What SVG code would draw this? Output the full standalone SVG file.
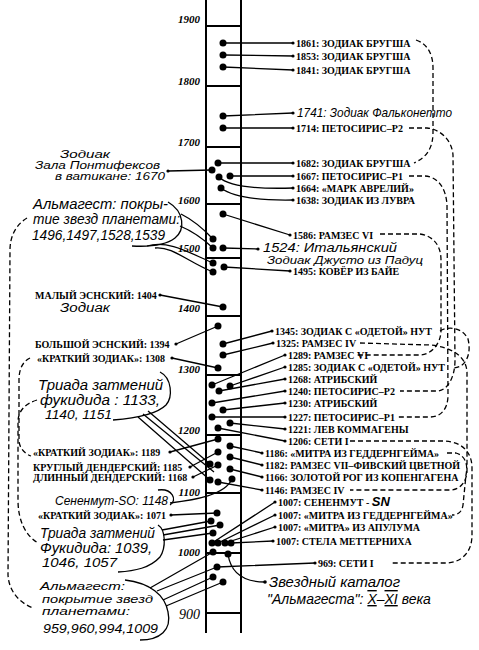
<svg xmlns="http://www.w3.org/2000/svg" width="479" height="650" viewBox="0 0 479 650">
<style>
.lb{font-family:"Liberation Serif",serif;font-weight:bold;font-size:10px;fill:#000}
.hw{font-family:"Liberation Sans",sans-serif;font-style:italic;font-size:13px;fill:#000}
.yr{font-family:"Liberation Serif",serif;font-weight:bold;font-style:italic;font-size:11px;text-anchor:end;fill:#000}
.ln{stroke:#000;stroke-width:1.3;fill:none}
.ds{stroke:#000;stroke-width:1.3;fill:none;stroke-dasharray:5 3}
.col{stroke:#000;stroke-width:2;fill:none}
.dot{fill:#000}
</style>
<rect width="479" height="650" fill="#fff"/>
<g id="timeline">
<line class="col" x1="206" y1="0" x2="206" y2="633"/>
<line class="col" x1="241" y1="0" x2="241" y2="633"/>
<path class="col" d="M206,26H241M206,86H241M206,147H241M206,204H241M206,258H241M206,316H241M206,375H241M206,435H241M206,493H241M206,553H241M206,613H241"/>
<text class="yr" x="200" y="23">1900</text>
<text class="yr" x="200" y="85">1800</text>
<text class="yr" x="200" y="146">1700</text>
<text class="yr" x="200" y="204">1600</text>
<text class="yr" x="200" y="252">1500</text>
<text class="yr" x="200" y="312">1400</text>
<text class="yr" x="200" y="373">1300</text>
<text class="yr" x="200" y="434">1200</text>
<text class="yr" x="200" y="495.5">1100</text>
<text class="yr" x="200" y="556">1000</text>
<text class="yr" x="200" y="619" style="font-size:14px;font-weight:normal">900</text>
</g>
<g id="dots">
<circle class="dot" cx="223" cy="43" r="3.5"/><circle class="dot" cx="223" cy="55" r="3.5"/><circle class="dot" cx="223" cy="67" r="3.5"/>
<circle class="dot" cx="223" cy="116" r="3.5"/><circle class="dot" cx="223" cy="128" r="3.5"/>
<circle class="dot" cx="218" cy="163" r="3.5"/><circle class="dot" cx="212" cy="170" r="3.5"/><circle class="dot" cx="219" cy="177" r="3.5"/><circle class="dot" cx="230" cy="176" r="3.5"/><circle class="dot" cx="221" cy="188" r="3.5"/>
<circle class="dot" cx="223" cy="214" r="3.5"/><circle class="dot" cx="213" cy="239" r="3.5"/><circle class="dot" cx="213" cy="248" r="3.5"/><circle class="dot" cx="223" cy="248" r="3.5"/>
<circle class="dot" cx="213" cy="263" r="3.5"/><circle class="dot" cx="213" cy="272" r="3.5"/><circle class="dot" cx="224" cy="267" r="3.5"/>
<circle class="dot" cx="223" cy="307" r="3.5"/><circle class="dot" cx="218" cy="326" r="3.5"/><circle class="dot" cx="223" cy="344" r="3.5"/><circle class="dot" cx="223" cy="355" r="3.5"/><circle class="dot" cx="218" cy="368" r="3.5"/>
<circle class="dot" cx="212" cy="385" r="3.5"/><circle class="dot" cx="230" cy="386" r="3.5"/><circle class="dot" cx="219" cy="391" r="3.5"/><circle class="dot" cx="212" cy="403" r="3.5"/><circle class="dot" cx="223" cy="410" r="3.5"/><circle class="dot" cx="212" cy="417" r="3.5"/><circle class="dot" cx="230" cy="423" r="3.5"/><circle class="dot" cx="218" cy="428" r="3.5"/>
<circle class="dot" cx="218" cy="439" r="3.5"/><circle class="dot" cx="230" cy="446" r="3.5"/><circle class="dot" cx="218" cy="452" r="3.5"/><circle class="dot" cx="230" cy="457" r="3.5"/><circle class="dot" cx="210" cy="464" r="3.5"/><circle class="dot" cx="218" cy="465" r="3.5"/><circle class="dot" cx="230" cy="469" r="3.5"/><circle class="dot" cx="210" cy="480" r="3.5"/><circle class="dot" cx="218" cy="482" r="3.5"/><circle class="dot" cx="232" cy="479" r="3.5"/>
<circle class="dot" cx="217" cy="513" r="3.5"/><circle class="dot" cx="211" cy="521" r="3.5"/><circle class="dot" cx="220" cy="525" r="3.5"/><circle class="dot" cx="213" cy="533" r="3.5"/>
<circle class="dot" cx="212" cy="543" r="3.5"/><circle class="dot" cx="218" cy="543" r="3.5"/><circle class="dot" cx="225" cy="543" r="3.5"/><circle class="dot" cx="231" cy="543" r="3.5"/>
<circle class="dot" cx="213" cy="552" r="3.5"/><circle class="dot" cx="228" cy="554" r="3.5"/><circle class="dot" cx="217" cy="567" r="3.5"/><circle class="dot" cx="213" cy="577" r="3.5"/><circle class="dot" cx="223" cy="582" r="3.5"/>
</g>
<g id="connectors">
<path class="ln" d="M223,43L293,43M223,55L293,56M223,67L293,70M223,116L293,113M223,128L293,128M218,163L293,163M230,176L293,176M219,177Q232,190 293,188M221,188Q238,201 293,200M223,214L290,235M223,248L258,249M224,267L290,271"/>
<path class="ln" d="M168,171L212,170M160,295L223,307M176,344L218,326M172,358L218,368"/>
<path class="ln" d="M223,344L272,331M223,355L273,343M212,385L285,355M230,386L285,367M219,391L285,379M212,403L285,391M223,410L285,403M212,417L285,417M230,423L285,429M218,428L285,441"/>
<path class="ln" d="M230,446L262,453M230,457L262,465M230,469L262,477M218,482L262,490"/>
<path class="ln" d="M170,452L218,439M190,467L218,452M193,477L218,465"/>
<path class="ln" d="M212,543L275,502M218,543L275,515M225,543L275,527M231,543L273,541M217,567L315,563M228,554C231,575 245,582 265,582"/>
<path class="ln" d="M171,515L217,513"/>
<path class="ln" d="M181,214Q197,222 213,239M180,226Q197,233 213,248M147,246C168,240 188,252 213,263M155,248C172,246 188,262 213,272"/>
<path class="ln" d="M148,411L210,464M143,414L214,472M138,417L210,480"/>
<path class="ln" d="M170,503C195,500 225,495 232,479"/>
<path class="ln" d="M162,530L211,521M163,535L220,525M163,540L213,533"/>
<path class="ln" d="M150,588L213,552M157,591L217,567M163,600L213,577M166,606L223,582"/>
<path class="ds" d="M416,40C428,44 433,55 433,68L433,132C433,148 427,157 414,163"/>
<path class="ds" d="M409,128L427,128C440,129 452,140 453,155L455,360C455,378 447,391 437,391L400,391"/>
<path class="ds" d="M409,176L425,176C438,177 446,188 447,205L448,395C448,410 440,417 430,417L396,417"/>
<path class="ds" d="M380,234L420,234C433,236 441,245 441,260L441,330C441,345 430,355 420,355L355,355"/>
<path class="ds" d="M440,331C448,326 462,327 468,339C472,355 465,368 453,368"/>
<path class="ds" d="M360,343L430,345C450,347 466,355 467,372L467,470C467,482 460,490 450,490L350,490"/>
<path class="ds" d="M350,441L445,441C462,442 472,452 472,468L472,535C472,552 462,563 445,563L390,563"/>
<path class="ds" d="M447,453L456,453C466,456 468,465 466,475L463,505C462,512 458,515 452,515"/>
<path class="ds" d="M27,218C17,224 10,235 10,250L8,575C9,592 20,603 33,608"/>
<path class="ds" d="M30,358C22,362 19,370 19,380L19,440C19,448 25,454 31,456"/>
<path class="ds" d="M37,400C24,404 18,412 18,422L18,500C18,520 25,535 38,543"/>
</g>
<g id="n1861"><circle cx="293" cy="43" r="1.6"/><text class="lb" x="296" y="46.5">1861: ЗОДИАК БРУГША</text></g>
<g id="n1853"><circle cx="293" cy="56" r="1.6"/><text class="lb" x="296" y="59.5">1853: ЗОДИАК БРУГША</text></g>
<g id="n1841"><circle cx="293" cy="70" r="1.6"/><text class="lb" x="296" y="73.5">1841: ЗОДИАК БРУГША</text></g>
<g id="n1741"><circle cx="293" cy="113" r="1.6"/><text class="hw" x="297" y="117" textLength="155" lengthAdjust="spacingAndGlyphs">1741: Зодиак Фальконетто</text></g>
<g id="n1714"><circle cx="293" cy="128" r="1.6"/><text class="lb" x="296" y="131.5">1714: ПЕТОСИРИС–Р2</text></g>
<g id="n1682"><circle cx="293" cy="163" r="1.6"/><text class="lb" x="296" y="166.5">1682: ЗОДИАК БРУГША</text></g>
<g id="n1667"><circle cx="293" cy="176" r="1.6"/><text class="lb" x="296" y="179.5">1667: ПЕТОСИРИС–Р1</text></g>
<g id="n1664"><circle cx="293" cy="188" r="1.6"/><text class="lb" x="296" y="191.5">1664: «МАРК АВРЕЛИЙ»</text></g>
<g id="n1638"><circle cx="293" cy="200" r="1.6"/><text class="lb" x="296" y="203.5">1638: ЗОДИАК ИЗ ЛУВРА</text></g>
<g id="n1586"><circle cx="290" cy="235" r="1.6"/><text class="lb" x="293" y="238.5">1586: РАМЗЕС VI</text></g>
<g id="n1524"><circle cx="258" cy="249" r="1.6"/><text class="hw" x="263" y="252" style="font-size:12px" textLength="134" lengthAdjust="spacingAndGlyphs">1524: Итальянский</text><text class="hw" x="267" y="264" style="font-size:11px" textLength="156" lengthAdjust="spacingAndGlyphs">Зодиак Джусто из Падуц</text></g>
<g id="n1495"><circle cx="290" cy="271" r="1.6"/><text class="lb" x="293" y="274.5">1495: КОВЁР ИЗ БАЙЕ</text></g>
<g id="n1345"><circle cx="272" cy="331" r="1.6"/><text class="lb" x="275" y="334.5">1345: ЗОДИАК С «ОДЕТОЙ» НУТ</text></g>
<g id="n1325"><circle cx="273" cy="343" r="1.6"/><text class="lb" x="276" y="346.5">1325: РАМЗЕС IV</text></g>
<g id="n1289"><circle cx="285" cy="355" r="1.6"/><text class="lb" x="288" y="358.5">1289: РАМЗЕС VI</text></g>
<g id="n1285"><circle cx="285" cy="367" r="1.6"/><text class="lb" x="288" y="370.5">1285: ЗОДИАК С «ОДЕТОЙ» НУТ</text></g>
<g id="n1268"><circle cx="285" cy="379" r="1.6"/><text class="lb" x="288" y="382.5">1268: АТРИБСКИЙ</text></g>
<g id="n1240"><circle cx="285" cy="391" r="1.6"/><text class="lb" x="288" y="394.5">1240: ПЕТОСИРИС–Р2</text></g>
<g id="n1230"><circle cx="285" cy="403" r="1.6"/><text class="lb" x="288" y="406.5">1230: АТРИБСКИЙ</text></g>
<g id="n1227"><circle cx="285" cy="417" r="1.6"/><text class="lb" x="288" y="420.5">1227: ПЕТОСИРИС–Р1</text></g>
<g id="n1221"><circle cx="285" cy="429" r="1.6"/><text class="lb" x="288" y="432.5">1221: ЛЕВ КОММАГЕНЫ</text></g>
<g id="n1206"><circle cx="285" cy="441" r="1.6"/><text class="lb" x="288" y="444.5">1206: СЕТИ I</text></g>
<g id="n1186"><circle cx="262" cy="453" r="1.6"/><text class="lb" x="265" y="456.5">1186: «МИТРА ИЗ ГЕДДЕРНГЕЙМА»</text></g>
<g id="n1182"><circle cx="262" cy="465" r="1.6"/><text class="lb" x="265" y="468.5">1182: РАМЗЕС VII–ФИВСКИЙ ЦВЕТНОЙ</text></g>
<g id="n1166"><circle cx="262" cy="477" r="1.6"/><text class="lb" x="265" y="480.5">1166: ЗОЛОТОЙ РОГ ИЗ КОПЕНГАГЕНА</text></g>
<g id="n1146"><circle cx="262" cy="490" r="1.6"/><text class="lb" x="265" y="493.5">1146: РАМЗЕС IV</text></g>
<g id="n1007a"><circle cx="275" cy="502" r="1.6"/><text class="lb" x="278" y="505.5">1007: СЕНЕНМУТ - <tspan class="hw" style="font-size:13px">SN</tspan></text></g>
<g id="n1007b"><circle cx="275" cy="515" r="1.6"/><text class="lb" x="278" y="518.5">1007: «МИТРА ИЗ ГЕДДЕРНГЕЙМА»</text></g>
<g id="n1007c"><circle cx="275" cy="527" r="1.6"/><text class="lb" x="278" y="530.5">1007: «МИТРА» ИЗ АПУЛУМА</text></g>
<g id="n1007d"><circle cx="273" cy="541" r="1.6"/><text class="lb" x="276" y="544.5">1007: СТЕЛА МЕТТЕРНИХА</text></g>
<g id="n969"><circle cx="315" cy="563" r="1.6"/><text class="lb" x="318" y="566.5">969: СЕТИ I</text></g>
<g id="nAlmagestCat"><circle cx="265" cy="582" r="1.8"/><text class="hw" x="269" y="587" style="font-size:14px" textLength="131" lengthAdjust="spacingAndGlyphs">Звездный каталог</text><text class="hw" x="267" y="604" style="font-size:14px">"Альмагеста": <tspan text-decoration="underline overline">X</tspan>–<tspan text-decoration="underline overline">XI</tspan> века</text></g>
<g id="n1670"><circle cx="168" cy="171" r="1.6"/><text class="hw" x="60" y="158" style="font-size:11px" textLength="50" lengthAdjust="spacingAndGlyphs">Зодиак</text><text class="hw" x="35" y="169" style="font-size:11px" textLength="125" lengthAdjust="spacingAndGlyphs">Зала Понтифексов</text><text class="hw" x="55" y="180" style="font-size:11px" textLength="110" lengthAdjust="spacingAndGlyphs">в ватикане: 1670</text></g>
<g id="nAlmagest1"><text class="hw" x="33" y="209" style="font-size:14px" textLength="135" lengthAdjust="spacingAndGlyphs">Альмагест: покры-</text><text class="hw" x="33" y="224" style="font-size:14px" textLength="147" lengthAdjust="spacingAndGlyphs">тие звезд планетами:</text><text class="hw" x="32" y="240" style="font-size:14px" textLength="133" lengthAdjust="spacingAndGlyphs">1496,1497,1528,1539</text><path class="ln" d="M168,202C185,212 185,230 175,238C166,245 150,247 132,246"/></g>
<g id="n1404"><circle cx="160" cy="295" r="1.6"/><text class="lb" x="35" y="298.5">МАЛЫЙ ЭСНСКИЙ: 1404</text><text class="hw" x="60" y="312" style="font-size:12px" textLength="50" lengthAdjust="spacingAndGlyphs">Зодиак</text></g>
<g id="n1394"><circle cx="176" cy="344" r="1.6"/><text class="lb" x="35" y="347.5">БОЛЬШОЙ ЭСНСКИЙ: 1394</text></g>
<g id="n1308"><circle cx="172" cy="358" r="1.6"/><text class="lb" x="37" y="361.5">«КРАТКИЙ ЗОДИАК»: 1308</text></g>
<g id="nTriada1"><text class="hw" x="38" y="390" style="font-size:14px" textLength="125" lengthAdjust="spacingAndGlyphs">Триада затмений</text><text class="hw" x="40" y="405" style="font-size:14px" textLength="120" lengthAdjust="spacingAndGlyphs">фукидида : 1133,</text><text class="hw" x="45" y="419" style="font-size:13px" textLength="67" lengthAdjust="spacingAndGlyphs">1140, 1151</text><path class="ln" d="M160,372C172,378 173,397 166,405C158,413 140,418 113,420"/></g>
<g id="n1189"><circle cx="170" cy="452" r="1.6"/><text class="lb" x="33" y="455.5">«КРАТКИЙ ЗОДИАК»: 1189</text></g>
<g id="n1185"><circle cx="190" cy="467" r="1.6"/><text class="lb" x="33" y="470.5">КРУГЛЫЙ ДЕНДЕРСКИЙ: 1185</text></g>
<g id="n1168"><circle cx="193" cy="477" r="1.6"/><text class="lb" x="33" y="480.5">ДЛИННЫЙ ДЕНДЕРСКИЙ: 1168</text></g>
<g id="nSenenmut"><text class="hw" x="55" y="505" style="font-size:12.5px" textLength="113" lengthAdjust="spacingAndGlyphs">Сененмут-SO: 1148</text><path class="ln" d="M158,490C172,488 178,500 170,505"/></g>
<g id="n1071"><circle cx="171" cy="515" r="1.6"/><text class="lb" x="38" y="518.5">«КРАТКИЙ ЗОДИАК»: 1071</text></g>
<g id="nTriada2"><text class="hw" x="40" y="538" style="font-size:14px" textLength="115" lengthAdjust="spacingAndGlyphs">Триада затмений</text><text class="hw" x="40" y="553" style="font-size:14px" textLength="112" lengthAdjust="spacingAndGlyphs">Фукидида: 1039,</text><text class="hw" x="42" y="567" style="font-size:13px" textLength="75" lengthAdjust="spacingAndGlyphs">1046, 1057</text><path class="ln" d="M158,525C166,530 166,548 160,557C150,568 135,571 118,572"/></g>
<g id="nAlmagest2"><text class="hw" x="40" y="590" style="font-size:11px" textLength="85" lengthAdjust="spacingAndGlyphs">Альмагест:</text><text class="hw" x="42" y="602.5" style="font-size:11px" textLength="111" lengthAdjust="spacingAndGlyphs">покрытие звезд</text><text class="hw" x="42" y="615" style="font-size:11px" textLength="88" lengthAdjust="spacingAndGlyphs">планетами:</text><text class="hw" x="43" y="633" style="font-size:13px" textLength="115" lengthAdjust="spacingAndGlyphs">959,960,994,1009</text><path class="ln" d="M125,580C150,583 165,595 168,612C172,630 160,640 140,640"/></g>
</svg>
